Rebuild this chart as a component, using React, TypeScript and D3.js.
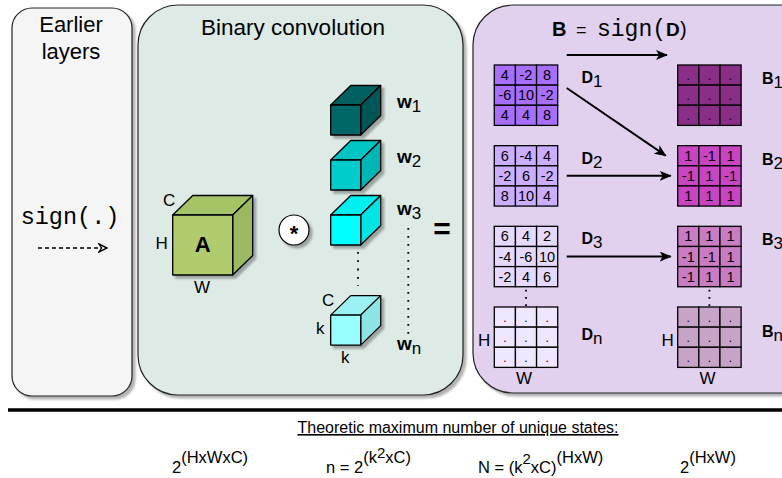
import React from 'react';
import * as d3 from 'd3';

const width = 782;
const height = 478;

const SANS = '"Liberation Sans", Arial, Helvetica, sans-serif';
const MONO = '"Liberation Mono", "Courier New", monospace';

// matrices D_i and B_i = sign(D_i)
const slots = ['1', '2', '3', 'n'];
const dValues = [
  ['4', '-2', '8', '-6', '10', '-2', '4', '4', '8'],
  ['6', '-4', '4', '-2', '6', '-2', '8', '10', '4'],
  ['6', '4', '2', '-4', '-6', '10', '-2', '4', '6'],
  ['.', '.', '.', '.', '.', '.', '.', '.', '.'],
];
const bValues = [
  ['.', '.', '.', '.', '.', '.', '.', '.', '.'],
  ['1', '-1', '1', '-1', '1', '-1', '1', '1', '1'],
  ['1', '1', '1', '-1', '-1', '1', '-1', '1', '1'],
  ['.', '.', '.', '.', '.', '.', '.', '.', '.'],
];
const dColors = ['#a86eff', '#cbaeff', '#e6d9ff', '#efe6ff'];
const bColors = ['#8b2e88', '#c944c2', '#c97cc4', '#c8a3c8'];
// arrows D_from -> B_to
const arrows = [
  { from: '1', to: '2' },
  { from: '2', to: '2' },
  { from: '3', to: '3' },
];

// filters w_i
const filterSlots = ['1', '2', '3', 'n'];
const filterIndex = [0, 1, 2, 3.82];
const filterColors = [
  { front: '#006666', top: '#006060', side: '#005757' },
  { front: '#00cccc', top: '#00c4c4', side: '#00b5b5' },
  { front: '#00ffff', top: '#00f0f0', side: '#00e4e4' },
  { front: '#99ffff', top: '#9cf2f2', side: '#8ce4e4' },
];
const inputColors = { front: '#b0cc6e', top: '#a6c466', side: '#9cb860' };

const cellScale = d3.scaleBand<number>().domain([0, 1, 2]).range([0, 63.4]);
const rowScale = d3.scaleBand<number>().domain([0, 1, 2]).range([0, 60.4]);
const matY = d3.scalePoint<string>().domain(slots).range([65, 307]);
const dX = 494.3;
const bX = 677.7;
const filterY = d3.scaleLinear().domain([0, 1]).range([105, 160]);

const depthX = 20;
const depthY = 19.5;

function Cube({ x, y, s, c }: { x: number; y: number; s: number; c: any }) {
  const top = [[x, y], [x + depthX, y - depthY], [x + s + depthX, y - depthY], [x + s, y]];
  const side = [[x + s, y], [x + s + depthX, y - depthY], [x + s + depthX, y + s - depthY], [x + s, y + s]];
  const pts = (p: number[][]) => p.map(d => d.join(',')).join(' ');
  return (
    <g filter="url(#shadow)" stroke="#000" strokeWidth={1.3} strokeLinejoin="round">
      <polygon points={pts(top)} fill={c.top} />
      <polygon points={pts(side)} fill={c.side} />
      <rect x={x} y={y} width={s} height={s} fill={c.front} />
    </g>
  );
}

function Matrix({ x, y, values, fill }: { x: number; y: number; values: string[]; fill: string }) {
  return (
    <g transform={`translate(${x},${y})`}>
      {values.map((v, i) => {
        const cx = cellScale(i % 3)!;
        const cy = rowScale(Math.floor(i / 3))!;
        return (
          <g key={i}>
            <rect x={cx} y={cy} width={cellScale.bandwidth()} height={rowScale.bandwidth()}
              fill={fill} stroke="#000" strokeWidth={1.3} />
            <text x={cx + cellScale.bandwidth() / 2} y={cy + rowScale.bandwidth() / 2 + 5}
              textAnchor="middle" fontSize={v === '.' ? 12 : 14.5} fontFamily={SANS}>{v}</text>
          </g>
        );
      })}
    </g>
  );
}

function Sub({ x, y, main, sub, size = 16, subSize = 16, anchor = 'start' }: any) {
  return (
    <text x={x} y={y} fontFamily={SANS} textAnchor={anchor}>
      <tspan fontWeight="bold" fontSize={size}>{main}</tspan>
      <tspan fontSize={subSize} dy={4}>{sub}</tspan>
    </text>
  );
}

export default function App() {
  const bw = cellScale.range()[1];
  const bh = rowScale.range()[1];
  return (
    <svg width={width} height={height} style={{ position: 'absolute', left: 0, top: 0, background: '#fff' }}
      fontFamily={SANS}>
      <defs>
        <filter id="shadow" x="-10%" y="-10%" width="130%" height="130%">
          <feDropShadow dx={3} dy={3} stdDeviation={1} floodColor="#000" floodOpacity={0.3} />
        </filter>
        <marker id="arrow" viewBox="0 0 12 10" refX={11} refY={5} markerWidth={12} markerHeight={10}
          markerUnits="userSpaceOnUse" orient="auto">
          <path d="M0,0 L12,5 L0,10 L3,5 Z" fill="#000" />
        </marker>
        <marker id="open" viewBox="0 0 10 10" refX={9} refY={5} markerWidth={10} markerHeight={10}
          markerUnits="userSpaceOnUse" orient="auto">
          <path d="M1,1 L9,5 L1,9 L3.5,5 Z" fill="#fff" stroke="#000" strokeWidth={1.4} />
        </marker>
      </defs>

      {/* panels */}
      <rect x={12} y={8} width={120} height={388} rx={20} fill="#f5f5f5" stroke="#222" strokeWidth={1.2}
        filter="url(#shadow)" />
      <rect x={138} y={5} width={325} height={390} rx={40} fill="#ddeae6" stroke="#222" strokeWidth={1.2}
        filter="url(#shadow)" />
      <rect x={473} y={5} width={360} height={388} rx={40} fill="#e1d1ee" stroke="#222" strokeWidth={1.2}
        filter="url(#shadow)" />

      {/* earlier layers */}
      <text x={71} y={32} textAnchor="middle" fontSize={22}>Earlier</text>
      <text x={71} y={59} textAnchor="middle" fontSize={22}>layers</text>
      <text x={70} y={224} textAnchor="middle" fontSize={23.5} fontFamily={MONO}>sign(.)</text>
      <line x1={38} y1={248} x2={107} y2={248} stroke="#000" strokeWidth={1.6} strokeDasharray="4 3"
        markerEnd="url(#open)" />

      {/* binary convolution */}
      <text x={293} y={35} textAnchor="middle" fontSize={22.5}>Binary convolution</text>
      <Cube x={172.7} y={215} s={60} c={inputColors} />
      <text x={202.7} y={252} textAnchor="middle" fontSize={22} fontWeight="bold">A</text>
      <text x={163} y={206} fontSize={17}>C</text>
      <text x={155.5} y={249} fontSize={17}>H</text>
      <text x={194} y={293} fontSize={17}>W</text>

      <circle cx={294} cy={230} r={15} fill="#fff" stroke="#000" strokeWidth={1.2} filter="url(#shadow)" />
      <text x={294} y={241} textAnchor="middle" fontSize={22} fontWeight="bold">*</text>

      {filterSlots.map((s, i) => {
        const y = filterY(filterIndex[i]);
        const ly = s === 'n' ? y + 35 : y + (i === 2 ? 0 : 3);
        return (
          <g key={s}>
            <Cube x={330.7} y={y} s={30} c={filterColors[i]} />
            <Sub x={397} y={ly} main="w" sub={s} size={19} subSize={17} />
          </g>
        );
      })}
      <line x1={358} y1={252} x2={358} y2={286} stroke="#000" strokeWidth={1.8} strokeDasharray="1.8 6.5" />
      <line x1={408.3} y1={228} x2={408.3} y2={334} stroke="#000" strokeWidth={1.8} strokeDasharray="1.8 6.2" />
      <text x={322} y={306} fontSize={17}>C</text>
      <text x={316} y={334} fontSize={17}>k</text>
      <text x={341} y={363} fontSize={17}>k</text>

      <text x={442} y={239} textAnchor="middle" fontSize={30} fontWeight="bold">=</text>

      {/* sign panel */}
      <text y={36}>
        <tspan x={552} fontSize={20} fontWeight="bold">B</tspan>
        <tspan x={576} fontSize={18}>=</tspan>
        <tspan x={597} fontSize={23} fontFamily={MONO}>sign(</tspan>
        <tspan x={666} fontSize={19} fontWeight="bold">D</tspan>
        <tspan x={680} fontSize={20}>)</tspan>
      </text>
      <line x1={566.7} y1={55} x2={667} y2={55} stroke="#000" strokeWidth={2} markerEnd="url(#arrow)" />

      {slots.map((s, i) => (
        <g key={s}>
          <Matrix x={dX} y={matY(s)!} values={dValues[i]} fill={dColors[i]} />
          <Matrix x={bX} y={matY(s)!} values={bValues[i]} fill={bColors[i]} />
          <Sub x={581.5} y={matY(s)! + (s === 'n' ? 33 : 18)} main="D" sub={s} size={16} subSize={17} />
          <Sub x={762} y={matY(s)! + (s === 'n' ? 30 : 19)} main="B" sub={s} size={16} subSize={17} />
        </g>
      ))}
      {arrows.map((a, i) => {
        const y1 = a.from === a.to ? matY(a.from)! + bh / 2 : matY(a.from)! + 23;
        const y2 = a.from === a.to ? matY(a.to)! + bh / 2 : matY(a.to)! + 10;
        const x2 = a.from === a.to ? bX - 7 : bX - 12;
        return <line key={i} x1={566.7} y1={y1} x2={x2} y2={y2} stroke="#000" strokeWidth={2}
          markerEnd="url(#arrow)" />;
      })}
      {[dX, bX].map(x => (
        <g key={x}>
          <line x1={x + bw / 2} y1={matY('3')! + bh + 3} x2={x + bw / 2} y2={matY('n')! - 1}
            stroke="#000" strokeWidth={1.8} strokeDasharray="1.8 5.5" />
          <text x={x - 4} y={matY('n')! + 39} textAnchor="end" fontSize={17}>H</text>
          <text x={x + bw / 2 - 2} y={matY('n')! + bh + 17} textAnchor="middle" fontSize={17}>W</text>
        </g>
      ))}

      {/* bottom */}
      <line x1={8} y1={410} x2={782} y2={410} stroke="#000" strokeWidth={3.5} />
      <text x={458} y={433} textAnchor="middle" fontSize={16} textDecoration="underline">
        Theoretic maximum number of unique states:
      </text>
      <text x={172} y={473} fontSize={16.5}>
        2<tspan dy={-10} fontSize={16.5}>(HxWxC)</tspan>
      </text>
      <text x={326} y={473} fontSize={16.5}>
        n = 2<tspan dy={-10} fontSize={16.5}>(k</tspan><tspan dy={-5} fontSize={15}>2</tspan>
        <tspan dy={5} fontSize={16.5}>xC)</tspan>
      </text>
      <text x={478} y={473} fontSize={16.5}>
        N = (k<tspan dy={-9} fontSize={15}>2</tspan><tspan dy={9}>xC)</tspan>
        <tspan dy={-10} fontSize={16.5}>(HxW)</tspan>
      </text>
      <text x={680} y={473} fontSize={16.5}>
        2<tspan dy={-10} fontSize={16.5}>(HxW)</tspan>
      </text>
    </svg>
  );
}
